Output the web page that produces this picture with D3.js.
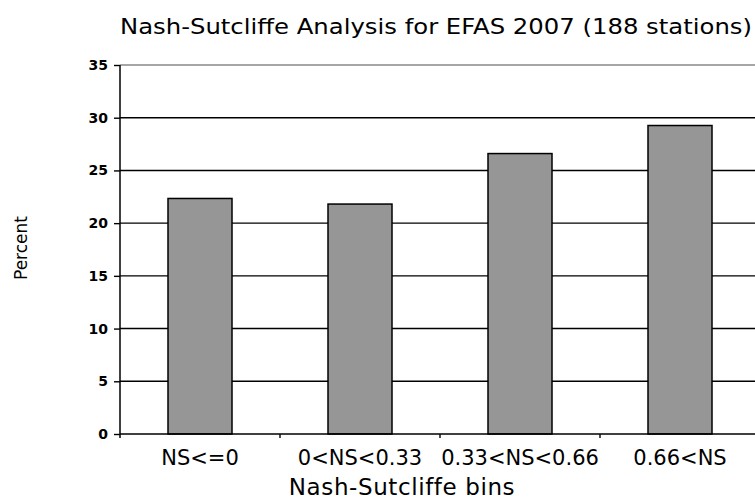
<!DOCTYPE html>
<html>
<head>
<meta charset="utf-8">
<script src="https://cdn.jsdelivr.net/npm/d3@7"></script>
<style>
  body { margin: 0; background: #fff; }
  text { font-family: "DejaVu Sans", sans-serif; fill: #000; }
</style>
</head>
<body>
<div id="chart"></div>
<script>
// data (percent of 188 stations)
const categories = ["NS<=0", "0<NS<0.33", "0.33<NS<0.66", "0.66<NS"];
const percent = [22.34, 21.81, 26.6, 29.26];
const yTicks = [0, 5, 10, 15, 20, 25, 30, 35];

const width = 755, height = 501;
const margin = {top: 65, right: -5, bottom: 67, left: 120};

const svg = d3.select("#chart")
  .append("svg")
    .attr("width", width)
    .attr("height", height);

const x = d3.scaleBand()
  .domain(categories)
  .range([margin.left, width - margin.right])
  .paddingInner(0.6)
  .paddingOuter(0.3);

// step scale for the tick marks between categories
const xStep = d3.scaleBand()
  .domain(categories)
  .range([margin.left, width - margin.right]);

const y = d3.scaleLinear()
  .domain([0, 35])
  .range([height - margin.bottom, margin.top]);

// gridlines
svg.append("g")
  .selectAll("line")
  .data(yTicks.filter(d => d > 0))
  .join("line")
    .attr("x1", margin.left)
    .attr("x2", width)
    .attr("y1", d => y(d))
    .attr("y2", d => y(d))
    .attr("stroke", d => d === 35 ? "#888" : "#000")
    .attr("stroke-width", 1.4);

// bars
svg.append("g")
  .selectAll("rect")
  .data(percent)
  .join("rect")
    .attr("x", (d, i) => x(categories[i]))
    .attr("y", d => y(d))
    .attr("width", x.bandwidth())
    .attr("height", d => y(0) - y(d))
    .attr("fill", "#969696")
    .attr("stroke", "#000")
    .attr("stroke-width", 1.5);

// y axis
const yAxis = svg.append("g")
  .attr("transform", `translate(${margin.left},0)`)
  .call(d3.axisLeft(y).tickValues(yTicks).tickSize(6).tickPadding(6));
yAxis.select(".domain").remove();
yAxis.append("line")
  .attr("x1", 0).attr("x2", 0)
  .attr("y1", y(35)).attr("y2", y(0) + 4)
  .attr("stroke", "#000").attr("stroke-width", 1.5);
yAxis.selectAll(".tick line").attr("stroke", "#000").attr("stroke-width", 1.4);
yAxis.selectAll(".tick text")
  .style("font-family", "'DejaVu Sans', sans-serif")
  .style("font-size", "14px")
  .style("font-weight", "bold")
  .attr("fill", "#000");

// x axis line and ticks between categories
svg.append("line")
  .attr("x1", margin.left).attr("x2", width)
  .attr("y1", y(0)).attr("y2", y(0))
  .attr("stroke", "#000").attr("stroke-width", 1.5);
svg.append("g")
  .selectAll("line")
  .data(categories.slice(1))
  .join("line")
    .attr("x1", d => xStep(d))
    .attr("x2", d => xStep(d))
    .attr("y1", y(0))
    .attr("y2", y(0) + 4)
    .attr("stroke", "#000")
    .attr("stroke-width", 1.4);

// category labels
svg.append("g")
  .selectAll("text")
  .data(categories)
  .join("text")
    .attr("x", d => x(d) + x.bandwidth() / 2)
    .attr("y", 465)
    .attr("text-anchor", "middle")
    .style("font-size", "21px")
    .text(d => d);

// title
svg.append("text")
  .attr("x", 120)
  .attr("y", 34)
  .attr("textLength", 632)
  .attr("lengthAdjust", "spacingAndGlyphs")
  .style("font-size", "22px")
  .text("Nash-Sutcliffe Analysis for EFAS 2007 (188 stations)");

// x axis title
svg.append("text")
  .attr("x", 402)
  .attr("y", 495)
  .attr("text-anchor", "middle")
  .style("font-size", "23px")
  .style("letter-spacing", "0.6px")
  .text("Nash-Sutcliffe bins");

// y axis title
svg.append("text")
  .attr("transform", "translate(27,248) rotate(-90)")
  .attr("text-anchor", "middle")
  .style("font-size", "17px")
  .text("Percent");
</script>
</body>
</html>
